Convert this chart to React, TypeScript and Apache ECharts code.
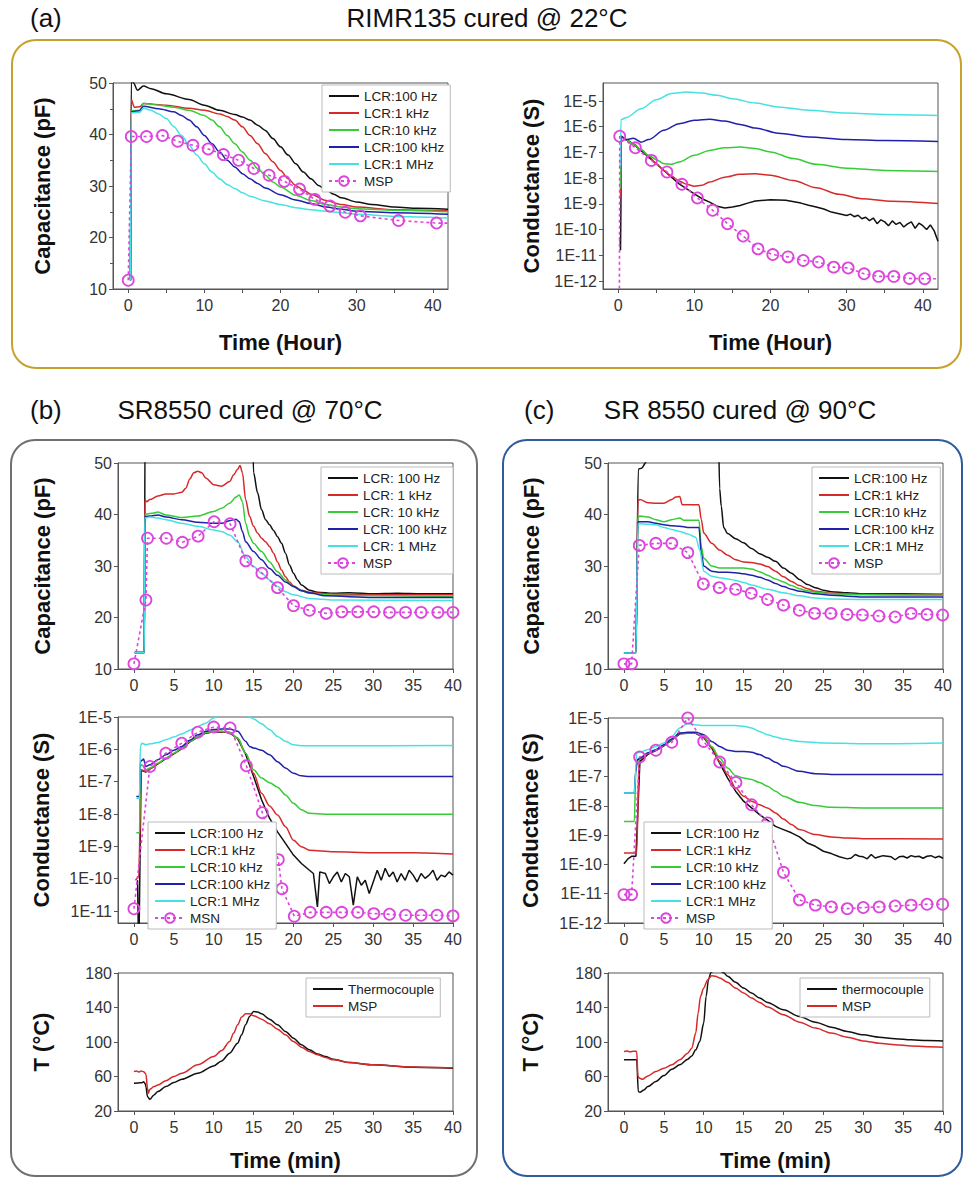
import React, { useEffect, useRef } from 'react';
import * as echarts from 'echarts';

type P = [number, number];

// ---------- Panel (a): RIMR135 cured @ 22°C, time in hours ----------
// capacitance (pF)
const aCap100Hz: P[] = [[0.3,11.7],[0.4,51],[0.7,50],[1.2,48.6],[2,49.4],[3,48.9],[5,47.9],[8,46.8],[10,45.7],[12,44.7],[14,43.9],[15,43.4],[16,42.8],[17,41.8],[18,40.8],[19,39.2],[20,37.6],[21,36.0],[22,34.3],[23,32.7],[24,31.4],[25,30.1],[26,29.2],[27,28.4],[28,27.7],[30,26.9],[32,26.4],[35,25.9],[38,25.7],[42,25.5]];
const aCap1kHz: P[] = [[0.3,11.7],[0.4,46.8],[0.8,45.3],[1.5,45.4],[2,46.0],[5,45.7],[8,45.1],[10,44.7],[12,44.0],[13,43.5],[14,42.8],[15,41.5],[16,39.8],[17,38.2],[18,36.3],[19,34.7],[20,33.0],[21,31.4],[22,30.1],[23,29.2],[24,28.4],[26,27.2],[28,26.4],[30,25.9],[35,25.4],[42,25.2]];
const aCap10kHz: P[] = [[0.3,11.7],[0.4,44.6],[1.5,44.7],[2,46.0],[4,45.7],[6,45.3],[8,44.7],[10,43.7],[11,42.8],[12,41.5],[13,39.8],[14,38.2],[15,36.6],[16,35.0],[17,33.4],[18,32.1],[19,30.8],[20,29.8],[22,28.2],[24,27.2],[26,26.4],[28,25.9],[30,25.6],[35,25.3],[42,25.0]];
const aCap100kHz: P[] = [[0.3,11.7],[0.4,44.4],[1.5,44.6],[2,45.5],[4,45.0],[6,44.4],[7,43.7],[8,42.8],[9,41.5],[10,39.8],[11,38.2],[12,36.6],[13,35.0],[14,33.7],[15,32.4],[16,31.4],[17,30.5],[18,29.6],[20,28.3],[22,27.3],[24,26.6],[26,25.9],[28,25.5],[30,25.1],[35,24.8],[42,24.5]];
const aCap1MHz: P[] = [[0.3,11.7],[0.4,44.2],[1.5,44.3],[2,45.1],[3,44.7],[4,44.0],[5,43.1],[6,41.5],[7,39.8],[8,37.9],[9,36.0],[10,34.3],[11,32.7],[12,31.4],[13,30.3],[14,29.5],[15,28.7],[16,28.0],[18,27.1],[20,26.4],[22,25.8],[24,25.4],[26,25.1],[28,24.8],[30,24.5],[35,24.1],[42,23.8]];
const aCapMSP: P[] = [[0,11.7],[0.4,39.6],[2.4,39.6],[4.5,39.8],[6.5,38.7],[8.5,37.9],[10.5,37.2],[12.5,36.1],[14.5,35.0],[16.5,33.4],[18.5,32.1],[20.5,30.9],[22.5,29.4],[24.5,27.4],[26.5,26.1],[28.5,24.9],[30.5,24.2],[35.5,23.3],[40.5,22.8]];
const aCapMSPTail: P = [42, 22.8];

// conductance, log10(S)
const aG1MHz: P[] = [[0.3,-7.55],[0.35,-5.73],[1,-5.65],[3,-5.30],[5,-4.95],[7,-4.71],[9,-4.65],[11,-4.69],[13,-4.78],[15,-4.91],[18,-5.08],[21,-5.23],[25,-5.36],[30,-5.47],[35,-5.52],[42,-5.56]];
const aG100kHz: P[] = [[0.3,-7.55],[0.4,-6.37],[1,-6.50],[2,-6.45],[3,-6.60],[4,-6.50],[6,-6.14],[8,-5.88],[10,-5.75],[12,-5.71],[14,-5.78],[16,-5.91],[18,-6.05],[21,-6.25],[25,-6.40],[30,-6.50],[35,-6.54],[42,-6.57]];
const aG10kHz: P[] = [[0.3,-8.4],[0.4,-6.37],[1,-6.50],[2,-6.69],[3,-6.89],[4,-7.11],[5,-7.28],[6,-7.44],[7,-7.46],[8,-7.37],[10,-7.11],[12,-6.92],[14,-6.82],[16,-6.79],[18,-6.85],[20,-6.98],[23,-7.24],[26,-7.46],[30,-7.61],[35,-7.70],[42,-7.74]];
const aG1kHz: P[] = [[0.3,-8.7],[0.4,-6.37],[1,-6.50],[2,-6.66],[3,-6.89],[4,-7.15],[5,-7.44],[6,-7.70],[7,-7.93],[8,-8.11],[9,-8.24],[10,-8.31],[11,-8.28],[12,-8.15],[14,-7.96],[16,-7.85],[18,-7.83],[20,-7.89],[23,-8.09],[26,-8.37],[29,-8.63],[32,-8.80],[36,-8.90],[42,-8.99]];
const aG100Hz: P[] = [[0.25,-10.3],[0.3,-10.8],[0.35,-9.3],[0.4,-6.37],[1,-6.50],[2,-6.68],[4,-7.18],[6,-7.70],[8,-8.22],[10,-8.61],[11,-8.80],[12,-8.93],[13,-9.09],[14,-9.16],[15,-9.12],[16,-9.06],[17,-8.97],[18,-8.89],[20,-8.84],[22,-8.86],[24,-8.97],[25,-9.05],[26,-9.12],[27,-9.20],[28,-9.32],[29,-9.38],[30,-9.45],[30.5,-9.40],[31,-9.50],[31.5,-9.44],[32,-9.58],[32.5,-9.52],[33,-9.65],[33.5,-9.55],[34,-9.77],[34.5,-9.62],[35,-9.70],[35.5,-9.85],[36,-9.66],[36.5,-9.80],[37,-9.72],[37.5,-9.90],[38,-9.78],[38.5,-9.70],[39,-9.95],[39.5,-9.75],[40,-9.85],[40.5,-10.0],[41,-9.82],[41.5,-10.05],[42,-10.45]];
const aGMSP: P[] = [[0.2,-6.37],[2.26,-6.82],[4.35,-7.31],[6.4,-7.76],[8.36,-8.24],[10.4,-8.77],[12.4,-9.25],[14.36,-9.77],[16.4,-10.25],[18.36,-10.75],[20.3,-10.97],[22.3,-11.06],[24.3,-11.2],[26.3,-11.26],[28.3,-11.46],[30.2,-11.49],[32.3,-11.72],[34.2,-11.82],[36.2,-11.82],[38.25,-11.9],[40.25,-11.91]];
const aGMSPHead: P = [0.15, -13];
const aGMSPTail: P = [42, -11.91];

// ---------- Panel (b): SR8550 cured @ 70°C, time in minutes ----------
const bCap100Hz: P[] = [[0.1,13.2],[1.3,13.2],[1.4,60],[14.8,60],[15,48.1],[15.5,44.2],[16,40.9],[16.5,39.0],[17,38.0],[17.5,36.9],[18,35.7],[18.5,34.4],[19,32.5],[19.5,30.2],[20,28.6],[20.5,27.3],[21,26.3],[22,25.3],[23,24.9],[25,24.7],[27,24.8],[30,24.6],[33,24.7],[36,24.6],[40,24.6]];
const bCap1kHz: P[] = [[0.1,13.2],[1.3,13.2],[1.35,42.9],[1.6,42.5],[2,42.9],[3,43.6],[4,44.0],[5,44.0],[6,44.3],[6.5,45.1],[7,46.9],[7.5,48.1],[8,48.4],[8.5,48.1],[9,47.1],[10,45.8],[11,45.5],[12,46.4],[12.5,47.7],[13,48.8],[13.3,49.5],[13.6,48.1],[14,42.9],[14.5,39.6],[15,37.7],[15.5,36.4],[16,35.4],[16.5,34.7],[17,33.8],[17.5,32.5],[18,30.8],[18.5,29.2],[19,27.9],[19.5,26.9],[20,26.1],[21,25.3],[22,24.9],[24,24.6],[30,24.4],[40,24.4]];
const bCap10kHz: P[] = [[0.1,13.2],[1.3,13.2],[1.35,39.6],[1.5,40.1],[2.5,40.3],[3,40.5],[4,39.9],[6,39.4],[8,39.7],[10,40.6],[11,41.2],[12,42.2],[12.8,43.4],[13.2,43.8],[13.6,42.5],[14,38.3],[14.5,35.7],[15,34.4],[16,32.8],[17,30.8],[18,28.9],[19,27.3],[20,26.0],[21,25.2],[22,24.7],[25,24.3],[40,24.1]];
const bCap100kHz: P[] = [[0.1,13.2],[1.3,13.2],[1.35,39.6],[2,39.7],[3,39.9],[4,39.5],[6,39.0],[8,38.5],[10,38.3],[11,38.3],[12,38.8],[12.8,39.1],[13.2,38.6],[13.6,36.7],[14,34.7],[15,32.8],[16,31.2],[17,29.5],[18,28.2],[19,26.9],[20,26.0],[21,25.2],[22,24.8],[24,24.2],[30,23.9],[40,23.9]];
const bCap1MHz: P[] = [[0.1,13.2],[1.3,13.2],[1.35,39.3],[2,39.5],[3,39.3],[4,39.0],[6,38.3],[8,37.7],[10,37.0],[11,36.7],[12,36.0],[13,34.7],[14,31.8],[15,29.9],[16,28.6],[17,27.3],[18,26.0],[19,25.0],[20,24.4],[22,23.7],[25,23.4],[40,23.3]];
const bCapMSP: P[] = [[0,11.0],[1.5,23.4],[1.7,35.4],[4.06,35.4],[6.07,34.6],[8.04,35.8],[10.05,38.6],[12.06,38.2],[14.03,31.0],[16.04,28.6],[18.0,25.8],[20.0,22.3],[22.0,21.4],[24.1,20.8],[26.05,21.1],[28.06,21.1],[30.07,21.1],[32.04,21.0],[34.05,21.0],[36.0,21.0],[38.1,21.0],[40,21.0]];

const bG1MHz: P[] = [[0.3,-7.51],[0.7,-7.51],[0.8,-5.91],[1,-5.81],[1.5,-5.86],[2,-5.83],[3,-5.79],[4,-5.70],[5,-5.62],[6,-5.52],[7,-5.41],[8,-5.29],[9,-5.19],[10,-5.03],[11,-4.9],[12,-4.85],[13,-4.86],[14,-4.93],[14.5,-5.0],[15,-5.06],[16,-5.21],[17,-5.39],[18,-5.60],[19,-5.75],[20,-5.86],[21,-5.89],[25,-5.89],[40,-5.88]];
const bG100kHz: P[] = [[0.3,-7.46],[0.7,-7.46],[0.8,-6.38],[1,-6.34],[1.2,-6.30],[1.5,-6.53],[2,-6.48],[3,-6.32],[4,-6.17],[5,-6.03],[6,-5.91],[7,-5.72],[8,-5.55],[9,-5.44],[10,-5.39],[11,-5.37],[12,-5.37],[13,-5.44],[14,-5.75],[14.5,-5.91],[15,-5.96],[16,-6.03],[17,-6.17],[18,-6.38],[19,-6.58],[20,-6.74],[21,-6.82],[22,-6.84],[40,-6.84]];
const bG10kHz: P[] = [[0.3,-8.58],[0.7,-8.58],[0.8,-6.53],[1,-6.48],[1.5,-6.63],[2,-6.58],[3,-6.43],[4,-6.27],[5,-6.12],[6,-5.96],[7,-5.75],[8,-5.60],[9,-5.48],[10,-5.44],[11,-5.44],[12,-5.47],[13,-5.65],[14,-6.12],[15,-6.63],[16,-6.89],[17,-7.03],[18,-7.17],[19,-7.41],[20,-7.67],[21,-7.87],[22,-7.98],[24,-8.01],[40,-8.01]];
const bG1kHz: P[] = [[0.2,-10.05],[0.6,-9.95],[0.9,-6.63],[1.5,-6.69],[2,-6.60],[3,-6.44],[4,-6.28],[5,-6.13],[6,-5.97],[7,-5.76],[8,-5.61],[9,-5.49],[10,-5.45],[11,-5.45],[12,-5.48],[13,-5.66],[14,-6.12],[15,-6.74],[16,-7.36],[17,-7.75],[18,-8.03],[19,-8.39],[20,-8.81],[21,-9.01],[22,-9.12],[25,-9.17],[30,-9.20],[35,-9.20],[40,-9.24]];
const bG100Hz: P[] = [[0.45,-10.05],[0.55,-11.6],[0.65,-11.6],[0.9,-6.65],[1.5,-6.70],[2,-6.61],[3,-6.45],[4,-6.29],[5,-6.14],[6,-5.98],[7,-5.77],[8,-5.62],[9,-5.50],[10,-5.46],[11,-5.46],[12,-5.49],[13,-5.67],[14,-6.15],[15,-6.84],[16,-7.56],[17,-8.13],[18,-8.55],[19,-8.91],[20,-9.27],[21,-9.53],[22,-9.74],[22.5,-9.84],[23,-10.87],[23.3,-9.79],[24,-9.84],[24.5,-10.15],[25,-9.94],[25.5,-9.79],[26,-10.10],[26.5,-9.84],[27,-9.94],[27.5,-10.82],[28,-9.94],[28.5,-10.20],[29,-10.05],[29.5,-10.46],[30,-10.10],[30.5,-9.74],[31,-10.05],[31.5,-9.68],[32,-9.94],[32.5,-9.79],[33,-10.10],[33.5,-9.84],[34,-10.05],[34.5,-9.74],[35,-9.89],[35.5,-10.10],[36,-9.84],[36.5,-9.99],[37,-9.89],[37.5,-9.74],[38,-10.05],[38.5,-9.89],[39,-9.94],[39.5,-9.79],[40,-9.89]];
const bGMSN: P[] = [[0,-10.93],[2.0,-6.53],[4.0,-6.12],[6.0,-5.81],[8.0,-5.47],[10.0,-5.31],[12.06,-5.34],[14.1,-6.51],[16.1,-7.96],[18.1,-9.41],[18.55,-10.31],[20.1,-11.16],[22.1,-11.04],[24.1,-11.04],[26.05,-11.04],[28.06,-11.04],[30.07,-11.08],[32.04,-11.10],[34.05,-11.13],[36.0,-11.13],[38.0,-11.13],[40,-11.15]];

const bTThermo: P[] = [[0,52.1],[0.5,52.5],[1,52.8],[1.2,54],[1.4,52],[1.5,48.3],[1.7,36.6],[2,33.5],[2.5,38.6],[3,42.5],[4,48.3],[5,52.9],[6,56.8],[8,63.8],[10,72.3],[11,78.1],[12,87.0],[13,98.6],[13.5,108.3],[14,120.0],[14.5,129.6],[15,135.4],[15.5,134.7],[16,132.7],[17,126.5],[18,120.0],[19,112.2],[20,104.4],[21,96.7],[22,90.9],[23,86.2],[24,83.1],[25,80.0],[27,76.2],[30,73.5],[35,70.7],[40,69.6]];
const bTMSP: P[] = [[0,65.7],[0.3,66.5],[0.6,65.2],[0.9,66.3],[1.2,65.5],[1.5,63.0],[1.7,46.3],[1.8,40.5],[2,45.2],[2.5,48.3],[3,50.2],[4,55.2],[5,59.9],[6,63.8],[8,73.5],[10,83.1],[11,90.1],[12,100.6],[12.5,110.3],[13,120.0],[13.5,128.9],[14,132.7],[14.5,132.7],[15,130.4],[16,126.5],[17,121.1],[18,114.9],[19,108.3],[20,100.6],[21,94.0],[22,89.0],[23,85.1],[24,82.0],[25,79.3],[27,76.2],[30,73.5],[35,71.1],[40,70.0]];

// ---------- Panel (c): SR 8550 cured @ 90°C, time in minutes ----------
const cCap100Hz: P[] = [[0,13.1],[1.5,13.1],[1.8,48.8],[2.2,49.0],[2.8,50.2],[3.2,60],[11.8,60],[12.0,45],[12.2,41.6],[12.5,37.5],[13,36.3],[14,35.3],[15,34.5],[16,33.4],[17,32.4],[18,31.7],[19,30.9],[20,29.6],[21,28.6],[22,27.4],[23,26.4],[24,25.8],[25,25.3],[26,25.0],[28,24.8],[30,24.6],[35,24.6],[40,24.5]];
const cCap1kHz: P[] = [[0,13.1],[1.5,13.1],[1.75,42.7],[2,42.9],[3,42.3],[4,42.2],[5,42.2],[6,42.9],[6.5,43.4],[7,43.5],[7.3,41.9],[8,41.9],[9,41.9],[9.4,41.9],[9.7,39.0],[10,36.4],[11,34.4],[12,33.1],[13,32.1],[14,31.2],[15,30.8],[16,30.7],[17,30.4],[18,29.9],[19,29.0],[20,27.9],[21,27.0],[22,26.2],[23,25.6],[24,25.1],[26,24.7],[30,24.5],[40,24.4]];
const cCap10kHz: P[] = [[0,13.1],[1.5,13.1],[1.75,39.4],[2,39.7],[3,39.5],[4,39.0],[5,38.6],[6,39.0],[7,39.3],[7.5,38.9],[8,38.9],[9.4,38.9],[9.7,33.8],[10,31.5],[11,30.0],[12,29.6],[13,29.6],[14,29.6],[15,29.6],[16,29.4],[17,28.9],[18,28.2],[19,27.5],[20,26.9],[21,26.2],[22,25.6],[23,25.2],[24,24.9],[26,24.6],[30,24.4],[40,24.3]];
const cCap100kHz: P[] = [[0,13.1],[1.5,13.1],[1.75,38.6],[2,38.6],[3,38.6],[4,38.3],[5,38.0],[6,37.8],[7,37.7],[8,37.5],[9.4,37.5],[9.7,32.5],[10,30.0],[11,29.0],[12,28.8],[13,28.8],[14,28.7],[15,28.5],[16,28.2],[17,27.8],[18,27.3],[19,26.6],[20,26.0],[21,25.5],[22,25.1],[24,24.6],[26,24.3],[30,24.0],[40,24.0]];
const cCap1MHz: P[] = [[0,13.1],[1.5,13.1],[1.75,38.1],[2,38.2],[3,38.1],[4,38.0],[5,37.5],[6,37.1],[7,36.7],[8,36.2],[9,35.6],[9.5,33.1],[10,29.0],[11,28.0],[12,27.7],[13,27.5],[14,27.2],[15,26.8],[16,26.3],[18,25.5],[20,24.8],[22,24.2],[24,23.8],[26,23.6],[30,23.5],[40,23.5]];
const cCapMSP: P[] = [[0,11.0],[0.96,11.0],[1.92,34.0],[4.0,34.4],[6.0,34.4],[8.0,32.6],[9.95,26.5],[11.95,25.8],[14.0,25.5],[15.96,24.7],[18.0,23.5],[20.0,22.4],[21.98,21.4],[23.9,20.8],[25.95,20.8],[27.96,20.6],[29.9,20.5],[31.97,20.3],[34.0,20.1],[36.0,20.8],[38.0,20.6],[39.95,20.5]];

const cG1MHz: P[] = [[0,-7.56],[1.3,-7.56],[1.6,-6.19],[2,-6.17],[3,-6.08],[4,-5.97],[5,-5.85],[6,-5.63],[7,-5.34],[8,-5.19],[9,-5.23],[10,-5.26],[12,-5.26],[14,-5.26],[15,-5.28],[16,-5.34],[17,-5.46],[18,-5.57],[19,-5.65],[20,-5.72],[22,-5.80],[25,-5.85],[30,-5.88],[40,-5.85]];
const cG100kHz: P[] = [[0,-7.56],[1.3,-7.56],[1.45,-6.88],[1.7,-6.42],[2,-6.37],[3,-6.19],[4,-6.08],[5,-5.91],[6,-5.72],[7,-5.51],[8,-5.49],[9,-5.49],[10,-5.57],[11,-5.80],[12,-5.97],[13,-6.10],[14,-6.14],[15,-6.14],[16,-6.17],[17,-6.25],[18,-6.37],[19,-6.51],[20,-6.65],[22,-6.82],[24,-6.90],[26,-6.93],[40,-6.93]];
const cG10kHz: P[] = [[0,-8.53],[1.3,-8.53],[1.5,-6.65],[1.8,-6.42],[2,-6.38],[3,-6.20],[4,-6.09],[5,-5.92],[6,-5.73],[7,-5.52],[8,-5.50],[9,-5.50],[10,-5.63],[11,-5.97],[12,-6.37],[13,-6.71],[14,-6.97],[15,-7.05],[16,-7.10],[17,-7.20],[18,-7.33],[19,-7.50],[20,-7.67],[22,-7.88],[24,-7.99],[26,-8.05],[30,-8.07],[40,-8.07]];
const cG1kHz: P[] = [[0,-9.61],[1.6,-9.61],[1.9,-6.42],[2,-6.40],[3,-6.22],[4,-6.10],[5,-5.94],[6,-5.74],[7,-5.53],[8,-5.51],[9,-5.51],[10,-5.66],[11,-6.02],[12,-6.48],[13,-6.93],[14,-7.39],[15,-7.67],[16,-7.84],[17,-7.96],[18,-8.07],[19,-8.24],[20,-8.45],[21,-8.64],[22,-8.81],[24,-8.98],[26,-9.06],[28,-9.10],[30,-9.12],[40,-9.13]];
const cG100Hz: P[] = [[0,-9.98],[0.5,-9.81],[1,-9.72],[1.5,-9.72],[1.8,-7.79],[2,-6.48],[3,-6.24],[4,-6.11],[5,-5.95],[6,-5.75],[7,-5.54],[8,-5.52],[9,-5.52],[10,-5.67],[11,-6.02],[12,-6.54],[13,-7.05],[14,-7.50],[15,-7.84],[16,-8.07],[17,-8.30],[18,-8.49],[19,-8.70],[20,-8.81],[21,-8.92],[22,-9.06],[23,-9.27],[24,-9.38],[25,-9.55],[26,-9.63],[27,-9.74],[28,-9.81],[28.5,-9.78],[29,-9.66],[29.5,-9.72],[30,-9.74],[30.5,-9.81],[31,-9.66],[31.5,-9.78],[32,-9.74],[32.5,-9.70],[33,-9.72],[33.5,-9.74],[34,-9.84],[34.5,-9.74],[35,-9.72],[35.5,-9.78],[36,-9.70],[36.5,-9.74],[37,-9.72],[37.5,-9.79],[38,-9.72],[38.5,-9.70],[39,-9.77],[39.5,-9.72],[40,-9.79]];
const cGMSP: P[] = [[0,-11.03],[0.96,-11.03],[1.96,-6.33],[4.0,-6.10],[6.0,-5.83],[8.0,-5.0],[10.0,-5.80],[12.0,-6.50],[14.04,-7.20],[16.0,-7.96],[18.0,-8.58],[20.0,-10.27],[22.0,-11.21],[24.0,-11.39],[26.0,-11.45],[28.0,-11.51],[30.0,-11.47],[32.0,-11.45],[34.0,-11.42],[36.0,-11.39],[38.0,-11.36],[39.95,-11.36]];

const cTThermo: P[] = [[0,79.3],[0.5,79.5],[1,79.3],[1.5,79.5],[1.6,79.3],[1.8,42.5],[2,41.7],[2.5,44.4],[3,48.3],[4,54.1],[5,61.1],[6,68.4],[7,73.5],[8,80.0],[8.5,83.9],[9,90.9],[9.5,100.6],[10,121.9],[10.3,152.9],[10.6,172.3],[10.9,180.5],[11.3,183],[12,183],[12.5,180.2],[13,176.1],[14,169.2],[15,162.6],[16,156.8],[17,150.9],[18,145.9],[20,137.4],[22,129.6],[24,123.0],[26,117.2],[28,112.2],[30,108.3],[32,105.6],[34,103.7],[36,102.5],[38,101.7],[40,101.3]];
const cTMSP: P[] = [[0,89.0],[0.4,89.5],[0.8,88.6],[1.2,89.3],[1.6,89.0],[1.75,59.9],[2,58.0],[2.3,56.8],[3,60.7],[4,65.7],[5,69.6],[6,73.5],[7,79.3],[8,87.0],[8.5,92.8],[9,110.3],[9.3,133.5],[9.6,152.9],[10,162.6],[10.5,172.3],[11,176.9],[11.5,176.1],[12,174.2],[13,169.2],[14,162.6],[15,156.8],[16,150.9],[17,145.9],[18,140.5],[20,131.6],[22,123.0],[24,116.1],[26,110.3],[28,105.6],[30,101.3],[32,98.6],[34,96.7],[36,95.5],[38,94.4],[40,94.0]];

// ---------- tick values & labels ----------
const hourLabelTicks = [0, 10, 20, 30, 40];
const hourTickMarks = [0, 5, 10, 15, 20, 25, 30, 35, 40];
const minTicks = [0, 5, 10, 15, 20, 25, 30, 35, 40];
const condTicksA = [-12, -11, -10, -9, -8, -7, -6, -5];
const condTicksB = [-11, -10, -9, -8, -7, -6, -5];
const condTicksC = [-12, -11, -10, -9, -8, -7, -6, -5];

const lcrNames = ['LCR:100 Hz', 'LCR:1 kHz', 'LCR:10 kHz', 'LCR:100 kHz', 'LCR:1 MHz'];
const lcrNamesSpaced = ['LCR: 100 Hz', 'LCR: 1 kHz', 'LCR: 10 kHz', 'LCR: 100 kHz', 'LCR: 1 MHz'];

const FONT = "'Liberation Sans', Arial, Helvetica, sans-serif";
const C_BLACK = '#111111';
const C_RED = '#d62a2a';
const C_GREEN = '#36cc36';
const C_BLUE = '#2020aa';
const C_CYAN = '#46e2e2';
const C_MAG = '#dc46dc';
const lcrColors = [C_BLACK, C_RED, C_GREEN, C_BLUE, C_CYAN];
const AXIS_C = '#555555';

function lineS(name: string, data: P[], color: string, gi: number, smooth = true) {
  return {
    type: 'line', name, data, xAxisIndex: gi, yAxisIndex: gi,
    symbol: 'none', showSymbol: false, clip: true,
    smooth: smooth ? 0.3 : false, smoothMonotone: 'x',
    lineStyle: { color, width: 1.5 }, itemStyle: { color },
    emphasis: { disabled: true }, silent: true, z: 2,
  };
}

function mspS(name: string, pts: P[], gi: number, head?: P, tail?: P) {
  const data: any[] = [];
  if (head) data.push({ value: head, symbol: 'none' });
  pts.forEach((p) => data.push(p));
  if (tail) data.push({ value: tail, symbol: 'none' });
  return {
    type: 'line', name, data, xAxisIndex: gi, yAxisIndex: gi,
    symbol: 'circle', symbolSize: 11, showSymbol: true, showAllSymbol: true, clip: true,
    lineStyle: { color: C_MAG, width: 1.6, type: [3, 3] },
    itemStyle: { color: 'rgba(255,255,255,0)', borderColor: C_MAG, borderWidth: 1.8 },
    emphasis: { disabled: true }, silent: true, z: 3,
  };
}

const grids = [
  { left: 113, top: 83, width: 335, height: 206 },
  { left: 603, top: 83, width: 335, height: 206 },
  { left: 118, top: 463, width: 335, height: 206 },
  { left: 118, top: 717, width: 335, height: 206 },
  { left: 118, top: 973, width: 335, height: 138 },
  { left: 608, top: 463, width: 335, height: 206 },
  { left: 608, top: 718, width: 335, height: 205 },
  { left: 608, top: 973, width: 335, height: 138 },
];

const nameStyle = { fontSize: 22, fontWeight: 'bold', color: '#111', fontFamily: FONT };
const labelStyle = { fontSize: 16, color: '#333', fontFamily: FONT };

function xAx(gi: number, kind: 'hour' | 'min', name = '', nameGap = 40) {
  const labels = kind === 'hour' ? hourLabelTicks : minTicks;
  const ticks = kind === 'hour' ? hourTickMarks : minTicks;
  return {
    type: 'value', gridIndex: gi, min: -2, max: kind === 'hour' ? 42 : 40,
    axisLine: { show: true, onZero: false, lineStyle: { color: AXIS_C, width: 1 } },
    axisTick: { show: true, inside: false, length: 4, customValues: ticks, lineStyle: { color: AXIS_C } },
    axisLabel: { ...labelStyle, margin: 8, customValues: labels },
    splitLine: { show: false },
    name, nameLocation: 'middle', nameGap, nameTextStyle: nameStyle,
  };
}

function yLin(gi: number, min: number, max: number, interval: number, name: string, nameGap: number, minor = false) {
  return {
    type: 'value', gridIndex: gi, min, max, interval,
    axisLine: { show: true, onZero: false, lineStyle: { color: AXIS_C, width: 1 } },
    axisTick: { show: true, inside: false, length: 4, lineStyle: { color: AXIS_C } },
    minorTick: { show: minor, splitNumber: 2, length: 3, lineStyle: { color: AXIS_C } },
    axisLabel: { ...labelStyle, margin: 6 },
    splitLine: { show: false },
    name, nameLocation: 'middle', nameGap, nameTextStyle: nameStyle,
  };
}

function yLog(gi: number, min: number, max: number, ticks: number[], nameGap: number) {
  return {
    type: 'value', gridIndex: gi, min, max,
    axisLine: { show: true, onZero: false, lineStyle: { color: AXIS_C, width: 1 } },
    axisTick: { show: true, inside: false, length: 4, customValues: ticks, lineStyle: { color: AXIS_C } },
    axisLabel: { ...labelStyle, margin: 6, customValues: ticks, formatter: (v: number) => '1E' + Math.round(v) },
    splitLine: { show: false },
    name: 'Conductance (S)', nameLocation: 'middle', nameGap, nameTextStyle: nameStyle,
  };
}

const legendBase = {
  orient: 'vertical', selectedMode: false, itemWidth: 30, itemHeight: 12, itemGap: 3,
  padding: [4, 6, 4, 6], backgroundColor: '#ffffff', borderColor: '#bbbbbb', borderWidth: 1,
  textStyle: { fontSize: 13.5, color: '#222', fontFamily: FONT },
  formatter: (n: string) => (n === 'MSP_T' ? 'MSP' : n),
};

// legend entries: plain lines hide the symbol, marker series keep it
const lineItem = (name: string) => ({ name, itemStyle: { opacity: 0 } });
const markItem = (name: string) => ({ name });

function buildOption() {
  const series: any[] = [];
  // (a) capacitance
  [aCap100Hz, aCap1kHz, aCap10kHz, aCap100kHz, aCap1MHz].forEach((d, i) => series.push(lineS(lcrNames[i], d, lcrColors[i], 0)));
  series.push(mspS('MSP', aCapMSP, 0, undefined, aCapMSPTail));
  // (a) conductance
  [aG100Hz, aG1kHz, aG10kHz, aG100kHz, aG1MHz].forEach((d, i) => series.push(lineS(lcrNames[i], d, lcrColors[i], 1, i !== 0)));
  series.push(mspS('MSP', aGMSP, 1, aGMSPHead, aGMSPTail));
  // (b)
  [bCap100Hz, bCap1kHz, bCap10kHz, bCap100kHz, bCap1MHz].forEach((d, i) => series.push(lineS(lcrNamesSpaced[i], d, lcrColors[i], 2)));
  series.push(mspS('MSP', bCapMSP, 2));
  [bG100Hz, bG1kHz, bG10kHz, bG100kHz, bG1MHz].forEach((d, i) => series.push(lineS(lcrNames[i], d, lcrColors[i], 3, i !== 0)));
  series.push(mspS('MSN', bGMSN, 3));
  series.push(lineS('Thermocouple', bTThermo, C_BLACK, 4));
  series.push(lineS('MSP_T', bTMSP, C_RED, 4));
  // (c)
  [cCap100Hz, cCap1kHz, cCap10kHz, cCap100kHz, cCap1MHz].forEach((d, i) => series.push(lineS(lcrNames[i], d, lcrColors[i], 5)));
  series.push(mspS('MSP', cCapMSP, 5));
  [cG100Hz, cG1kHz, cG10kHz, cG100kHz, cG1MHz].forEach((d, i) => series.push(lineS(lcrNames[i], d, lcrColors[i], 6, i !== 0)));
  series.push(mspS('MSP', cGMSP, 6));
  series.push(lineS('thermocouple', cTThermo, C_BLACK, 7));
  series.push(lineS('MSP_T', cTMSP, C_RED, 7));

  const titleFont = `26px ${FONT}`;
  const txt = (x: number, y: number, text: string, align: string) => ({
    type: 'text', x, y, silent: true,
    style: { text, font: titleFont, fill: '#111', align, verticalAlign: 'middle', textAlign: align, textVerticalAlign: 'middle' },
  });
  const box = (x: number, y: number, w: number, h: number, color: string) => ({
    type: 'rect', silent: true, z: -10,
    shape: { x, y, width: w, height: h, r: 24 },
    style: { fill: 'none', stroke: color, lineWidth: 2 },
  });

  return {
    animation: false,
    backgroundColor: '#ffffff',
    textStyle: { fontFamily: FONT },
    grid: grids.map((g) => ({ ...g, show: true, borderColor: AXIS_C, borderWidth: 1, backgroundColor: 'transparent', containLabel: false })),
    xAxis: [
      xAx(0, 'hour', 'Time (Hour)', 42),
      xAx(1, 'hour', 'Time (Hour)', 42),
      xAx(2, 'min'),
      xAx(3, 'min'),
      xAx(4, 'min', 'Time (min)', 38),
      xAx(5, 'min'),
      xAx(6, 'min'),
      xAx(7, 'min', 'Time (min)', 38),
    ],
    yAxis: [
      yLin(0, 10, 50, 10, 'Capacitance (pF)', 60, true),
      yLog(1, -12.31, -4.3, condTicksA, 61),
      yLin(2, 10, 50, 10, 'Capacitance (pF)', 65),
      yLog(3, -11.37, -5, condTicksB, 66),
      yLin(4, 20, 180, 40, 'T (°C)', 66),
      yLin(5, 10, 50, 10, 'Capacitance (pF)', 66),
      yLog(6, -12, -5, condTicksC, 67),
      yLin(7, 20, 180, 40, 'T (°C)', 67),
    ],
    legend: [
      { ...legendBase, left: 322, top: 85, data: [...lcrNames.map(lineItem), markItem('MSP')] },
      { ...legendBase, left: 321, top: 467, data: [...lcrNamesSpaced.map(lineItem), markItem('MSP')] },
      { ...legendBase, left: 148, top: 822, data: [...lcrNames.map(lineItem), markItem('MSN')] },
      { ...legendBase, left: 306, top: 978, data: [lineItem('Thermocouple'), lineItem('MSP_T')] },
      { ...legendBase, left: 812, top: 467, data: [...lcrNames.map(lineItem), markItem('MSP')] },
      { ...legendBase, left: 644, top: 822, data: [...lcrNames.map(lineItem), markItem('MSP')] },
      { ...legendBase, left: 800, top: 978, data: [lineItem('thermocouple'), lineItem('MSP_T')] },
    ],
    graphic: [
      box(12, 40, 949, 328, '#c6a12c'),
      box(11, 440, 466, 736, '#707070'),
      box(503, 440, 459, 736, '#2f5b9c'),
      txt(30, 18, '(a)', 'left'),
      txt(487, 18, 'RIMR135 cured @ 22°C', 'center'),
      txt(30, 410, '(b)', 'left'),
      txt(250, 410, 'SR8550 cured @ 70°C', 'center'),
      txt(524, 410, '(c)', 'left'),
      txt(740, 410, 'SR 8550 cured @ 90°C', 'center'),
    ],
    series,
  };
}

export default function App() {
  const ref = useRef<HTMLDivElement>(null);
  useEffect(() => {
    if (!ref.current) return;
    const chart = echarts.init(ref.current, undefined, { renderer: 'svg' });
    chart.setOption(buildOption() as any);
    return () => chart.dispose();
  }, []);
  return (
    <div
      ref={ref}
      style={{ position: 'absolute', left: 0, top: 0, width: 964, height: 1178, background: '#ffffff' }}
    />
  );
}
